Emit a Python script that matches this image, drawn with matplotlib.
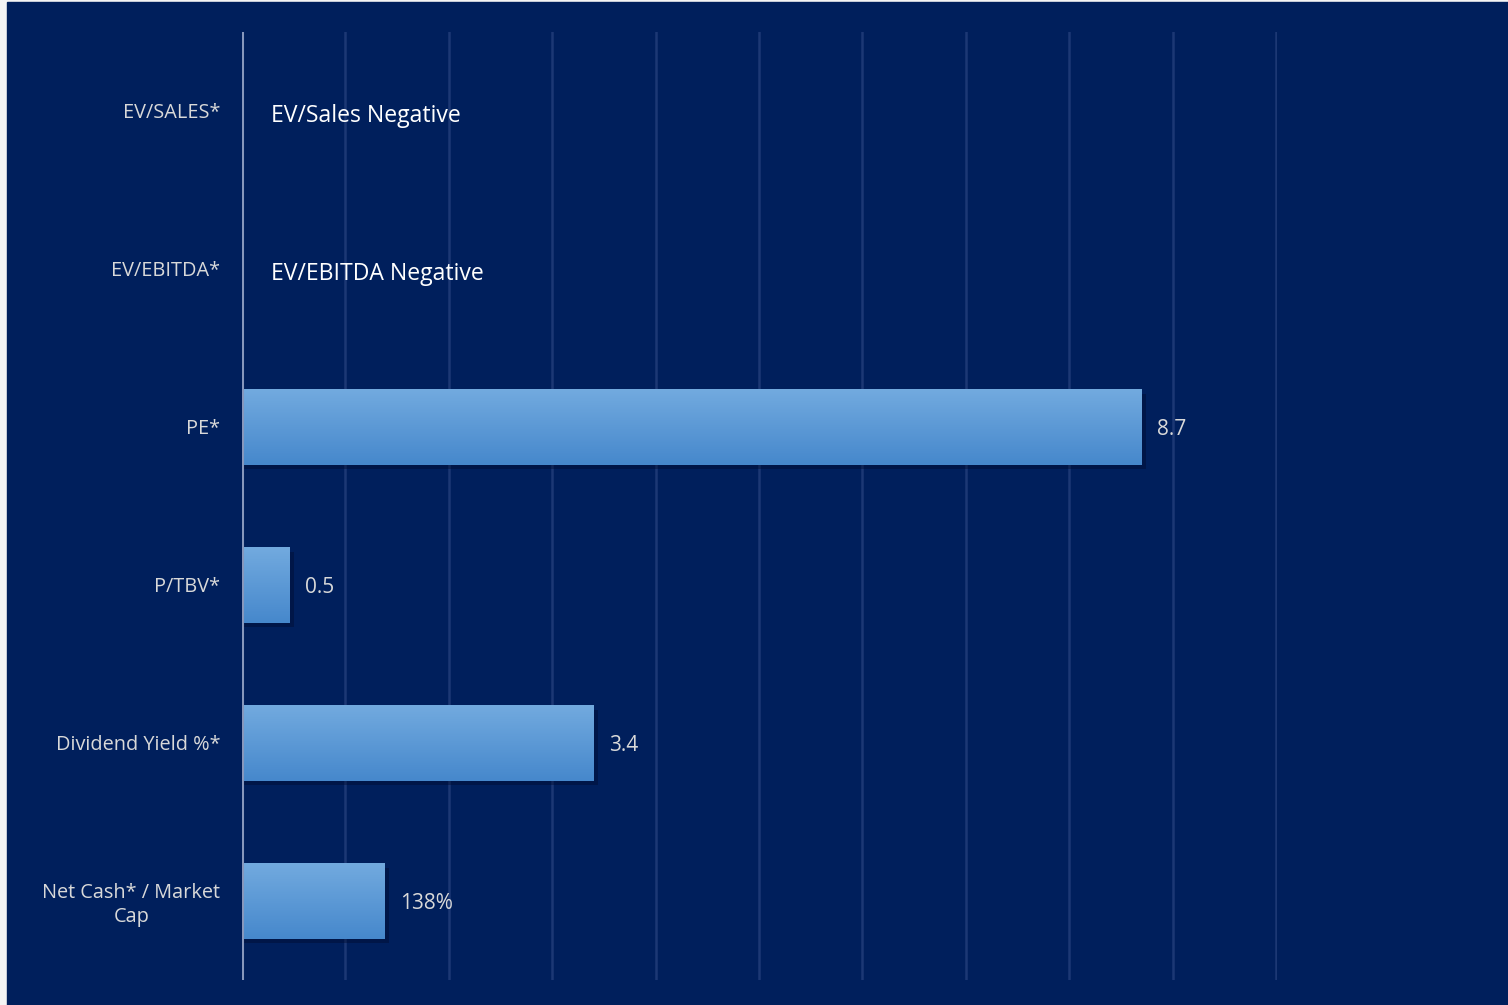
import matplotlib.pyplot as plt
import matplotlib.patches as mpatches
import numpy as np

categories = ["EV/SALES*", "EV/EBITDA*", "PE*", "P/TBV*", "Dividend Yield %*",
              "Net Cash* / Market\nCap"]
values = [0, 0, 8.7, 0.46, 3.4, 1.38]
value_labels = ["", "", "8.7", "0.5", "3.4", "138%"]
notes = ["EV/Sales Negative", "EV/EBITDA Negative", "", "", "", ""]

navy = "#001F5C"
plt.rcParams['font.family'] = ['Open Sans', 'DejaVu Sans']

fig = plt.figure(figsize=(15.08, 10.05), dpi=100, facecolor="#F4F4F4")
fig.patches.append(mpatches.Rectangle((7/1508, 0), 1, 1 - 2/1005,
                                      transform=fig.transFigure, color=navy, zorder=-10))
ax = fig.add_axes([242/1508, 25/1005, (1277-242)/1508, (980-32)/1005])
ax.set_facecolor(navy)
for s in ax.spines.values():
    s.set_visible(False)

y = np.arange(len(categories))
h = 0.475

ax.set_xticks(np.arange(0, 11, 1))
ax.xaxis.grid(True, color="#1C3874", lw=1.8)
ax.set_axisbelow(True)
ax.set_xticklabels([])
ax.tick_params(axis="x", length=0)
ax.axvline(0, color="#8797BC", lw=2.2, zorder=5)

ax.set_yticks(y)
ax.set_yticklabels(categories, color="#D9D9D9", fontsize=14.3, multialignment="center",
                   linespacing=1.25)
ax.tick_params(axis="y", length=0, pad=15.5)

grad = np.linspace(0, 1, 100).reshape(-1, 1)
cmap = plt.matplotlib.colors.LinearSegmentedColormap.from_list("b", ["#72AADF", "#4688CC"])
for yi, v in zip(y, values):
    if v <= 0:
        continue
    # shadow
    ax.add_patch(mpatches.Rectangle((0, yi - h/2 + 0.03), v + 0.04, h,
                                    color="#000A2A", alpha=0.4, lw=0, zorder=2))
    ax.imshow(grad, extent=(0, v, yi + h/2, yi - h/2), cmap=cmap, aspect="auto",
              zorder=3, interpolation="bicubic")
ax.set_xlim(0, 10.01)
ax.set_ylim(len(categories) - 0.5, -0.5)

for yi, v, lab in zip(y, values, value_labels):
    if lab:
        ax.annotate(lab, (v, yi + 0.015), xytext=(11, 0), textcoords="offset points",
                    va="center", ha="left", color="#D9D9D9", fontsize=15)

for yi, n in zip(y, notes):
    if n:
        ax.annotate(n, (0, yi + 0.03), xytext=(21, 0), textcoords="offset points",
                    va="center", ha="left", color="white", fontsize=16.6)

fig.savefig("out.png", dpi=100, facecolor=fig.get_facecolor())
